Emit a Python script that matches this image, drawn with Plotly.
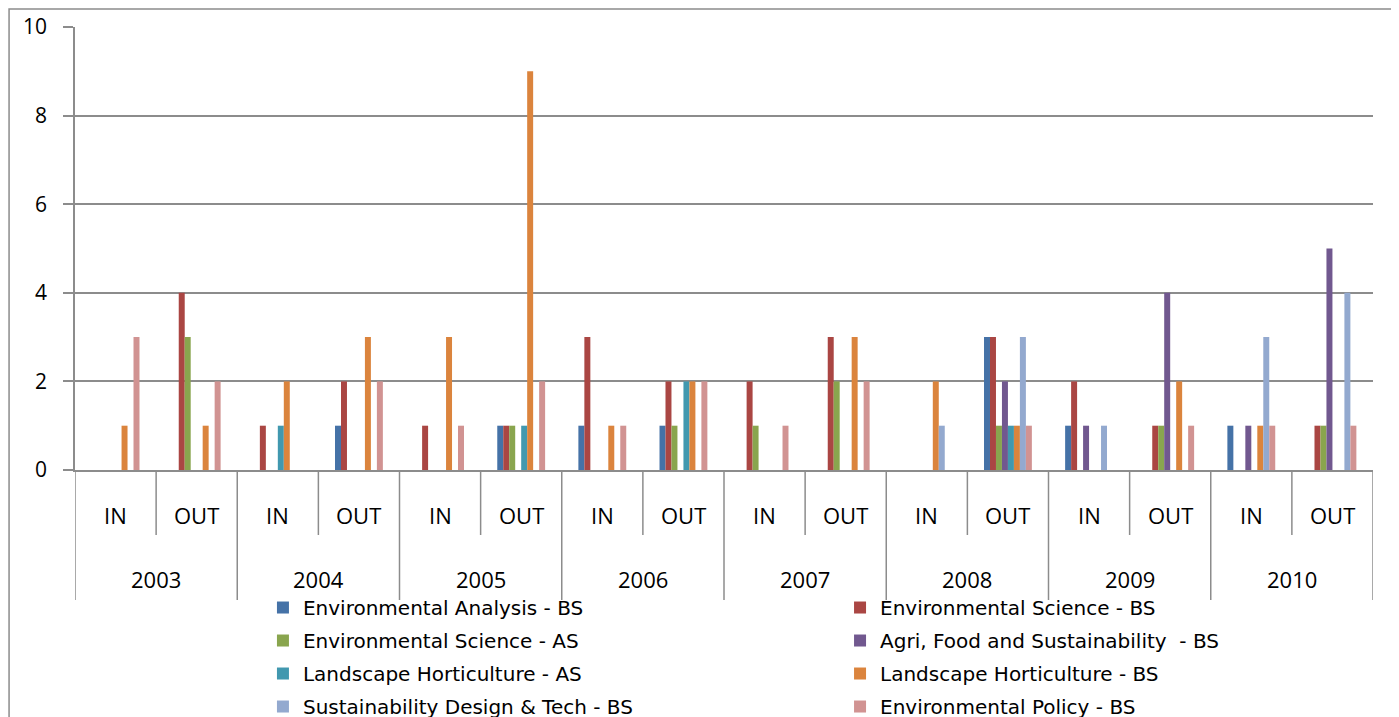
import plotly.graph_objects as go

years = ["2003", "2004", "2005", "2006", "2007", "2008", "2009", "2010"]
directions = ["IN", "OUT"]
categories = [f"{y} {d}" for y in years for d in directions]

series_names = [
    "Environmental Analysis - BS",
    "Environmental Science - BS",
    "Environmental Science - AS",
    "Agri, Food and Sustainability  - BS",
    "Landscape Horticulture - AS",
    "Landscape Horticulture - BS",
    "Sustainability Design & Tech - BS",
    "Environmental Policy - BS",
]

#                      2003   2004   2005   2006   2007   2008   2009   2010
#                      IN OUT IN OUT IN OUT IN OUT IN OUT IN OUT IN OUT IN OUT
env_analysis_bs =     [0, 0,  0, 1,  0, 1,  1, 1,  0, 0,  0, 3,  1, 0,  1, 0]
env_science_bs =      [0, 4,  1, 2,  1, 1,  3, 2,  2, 3,  0, 3,  2, 1,  0, 1]
env_science_as =      [0, 3,  0, 0,  0, 1,  0, 1,  1, 2,  0, 1,  0, 1,  0, 1]
agri_food_sust_bs =   [0, 0,  0, 0,  0, 0,  0, 0,  0, 0,  0, 2,  1, 4,  1, 5]
landscape_hort_as =   [0, 0,  1, 0,  0, 1,  0, 2,  0, 0,  0, 1,  0, 0,  0, 0]
landscape_hort_bs =   [1, 1,  2, 3,  3, 9,  1, 2,  0, 3,  2, 1,  0, 2,  1, 0]
sust_design_tech_bs = [0, 0,  0, 0,  0, 0,  0, 0,  0, 0,  1, 3,  1, 0,  3, 4]
env_policy_bs =       [3, 2,  0, 2,  1, 2,  1, 2,  1, 2,  0, 1,  0, 1,  1, 1]

series_values = [
    env_analysis_bs, env_science_bs, env_science_as, agri_food_sust_bs,
    landscape_hort_as, landscape_hort_bs, sust_design_tech_bs, env_policy_bs,
]
colors = ["#4572A7", "#AA4643", "#89A54E", "#71588F",
          "#4198AF", "#DB843D", "#93A9CF", "#D19392"]

y_ticks = [0, 2, 4, 6, 8, 10]

FONT = "Open Sans"
LEG_FONT = "DejaVu Sans"
x_idx = list(range(len(categories)))

fig = go.Figure()
for k, (name, vals, col) in enumerate(zip(series_names, series_values, colors)):
    fig.add_trace(go.Bar(
        x=x_idx, y=vals, name=name,
        marker=dict(color=col, line=dict(width=0)),
        legend="legend" if k % 2 == 0 else "legend2",
        legendgroup=f"g{k}",
    ))

# category axis separators (decoration)
shapes = []
LINE = dict(color="#8c8c8c", width=1.5)
for i in range(len(categories) + 1):
    y_end = -0.2935 if i % 2 == 0 else -0.1467
    shapes.append(dict(type="line", xref="x", yref="paper",
                       x0=i - 0.5, x1=i - 0.5, y0=0, y1=y_end, line=LINE))
# outer chart border
shapes.append(dict(type="rect", xref="paper", yref="paper",
                   x0=-0.0508, x1=1.03, y0=-0.62, y1=1.0406,
                   line=dict(color="#8c8c8c", width=1.5), fillcolor="rgba(0,0,0,0)"))

annotations = []
for i, c in enumerate(categories):
    annotations.append(dict(x=i, y=-0.102, xref="x", yref="paper",
                            text=c.split(" ")[1], showarrow=False,
                            font=dict(family=FONT, size=22, color="#000000"),
                            xanchor="center", yanchor="middle"))
for k, yr in enumerate(years):
    annotations.append(dict(x=2 * k + 0.5, y=-0.247, xref="x", yref="paper",
                            text=yr, showarrow=False,
                            font=dict(family=FONT, size=22, color="#000000"),
                            xanchor="center", yanchor="middle"))

legend_common = dict(orientation="v", xanchor="left", yanchor="top",
                     font=dict(family=LEG_FONT, size=20, color="#000000"),
                     traceorder="grouped", tracegroupgap=4,
                     bgcolor="rgba(0,0,0,0)")

fig.update_layout(
    width=1399, height=717,
    margin=dict(l=67, r=34, t=19, b=255, autoexpand=False),
    paper_bgcolor="white", plot_bgcolor="white",
    barmode="group", bargap=0.41, bargroupgap=0,
    font=dict(family=FONT, size=20, color="#000000"),
    showlegend=True,
    legend=dict(x=0.1448, y=-0.2664, **legend_common),
    legend2=dict(x=0.5894, y=-0.2664, **legend_common),
    xaxis=dict(range=[-0.5, len(categories) - 0.5], showticklabels=False,
               showgrid=False, zeroline=False, showline=True,
               linecolor="#8c8c8c", linewidth=1.5, ticks=""),
    yaxis=dict(range=[0, 10], tickvals=y_ticks, showgrid=True,
               gridcolor="#8c8c8c", gridwidth=1.5, zeroline=False,
               showline=True, linecolor="#8c8c8c", linewidth=1.5,
               ticks="outside", ticklen=10, tickcolor="#8c8c8c", tickwidth=1.5,
               ticklabelstandoff=12,
               tickfont=dict(family=FONT, size=21, color="#000000")),
    shapes=shapes, annotations=annotations,
)

fig.write_html("out.html")
